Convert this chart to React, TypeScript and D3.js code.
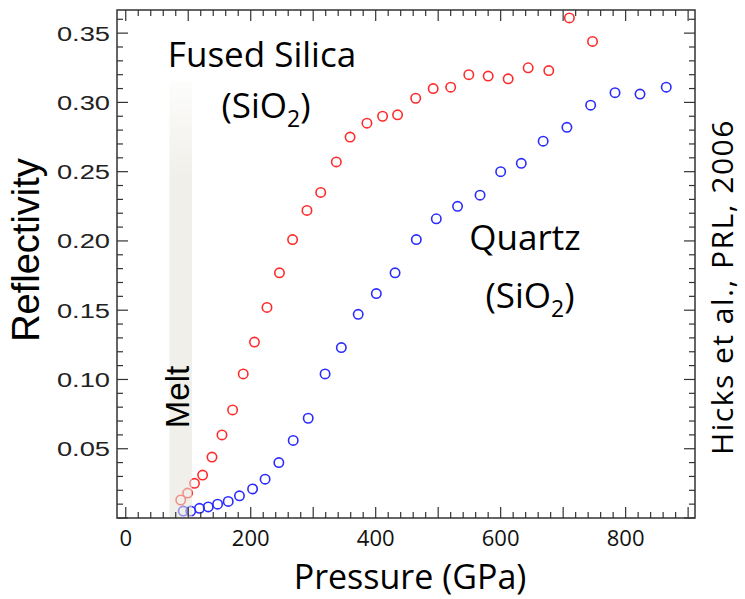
import React from 'react';
import * as d3 from 'd3';

const fusedP = [88, 99, 110, 123, 138, 154, 171, 188, 206, 226, 246, 267, 290, 312, 337, 359, 386, 411, 435, 464, 492, 520, 549, 580, 612, 644, 677, 710, 747];
const fusedR = [0.013, 0.018, 0.025, 0.031, 0.044, 0.060, 0.078, 0.104, 0.127, 0.152, 0.177, 0.201, 0.222, 0.235, 0.257, 0.275, 0.285, 0.290, 0.291, 0.303, 0.310, 0.311, 0.320, 0.319, 0.317, 0.325, 0.323, 0.361, 0.344];
const quartzP = [92, 104, 118, 132, 147, 164, 182, 203, 223, 245, 268, 292, 319, 345, 372, 401, 431, 465, 497, 531, 567, 600, 633, 668, 706, 744, 783, 823, 865];
const quartzR = [0.005, 0.005, 0.007, 0.008, 0.010, 0.012, 0.016, 0.021, 0.028, 0.040, 0.056, 0.072, 0.104, 0.123, 0.147, 0.162, 0.177, 0.201, 0.216, 0.225, 0.233, 0.250, 0.256, 0.272, 0.282, 0.298, 0.307, 0.306, 0.311];
const xTickLabels = [0, 200, 400, 600, 800];
const yTickLabels = [0.05, 0.10, 0.15, 0.20, 0.25, 0.30, 0.35];
const meltRange = [70, 106];
const meltTop = 0.315;

export default function App() {
  const W = 745, H = 599;
  const left = 117, right = 695, top = 10, bottom = 518;
  const x = d3.scaleLinear().domain([-14, 911]).range([left, right]);
  const y = d3.scaleLinear().domain([0, 0.3667]).range([bottom, top]);

  const xMinor = d3.range(0, 901, 20);
  const yMinor = d3.range(0, 37).map((i) => i / 100);
  const axisColor = '#333';
  const red = '#ff2b2b';
  const blue = '#2b2bff';
  const annFont = '"Open Sans", Lato, sans-serif';
  const arial = '"Liberation Sans", Arial, sans-serif';

  return (
    <div style={{ position: 'absolute', left: 0, top: 0 }}>
      <svg width={W} height={H} style={{ display: 'block', background: '#fff' }}>
        <defs>
          <linearGradient id="meltGrad" x1="0" y1="1" x2="0" y2="0">
            <stop offset="0" stopColor="#e4e2d8" stopOpacity={0.55} />
            <stop offset="0.78" stopColor="#e4e2d8" stopOpacity={0.55} />
            <stop offset="1" stopColor="#e4e2d8" stopOpacity={0.08} />
          </linearGradient>
        </defs>

        {fusedP.map((p, i) => (
          <circle key={'f' + i} cx={x(p)} cy={y(fusedR[i])} r={4.7} fill="none" stroke={red} strokeWidth={1.6} />
        ))}
        {quartzP.map((p, i) => (
          <circle key={'q' + i} cx={x(p)} cy={y(quartzR[i])} r={4.7} fill="none" stroke={blue} strokeWidth={1.6} />
        ))}

        <rect x={x(meltRange[0])} y={y(meltTop)} width={x(meltRange[1]) - x(meltRange[0])} height={y(0) - y(meltTop)} fill="url(#meltGrad)" />

        <rect x={left} y={top} width={right - left} height={bottom - top} fill="none" stroke={axisColor} strokeWidth={1.5} />

        {xMinor.map((v) => {
          const major = v % 100 === 0;
          const len = major ? 11 : 6;
          return (
            <g key={'xt' + v}>
              <line x1={x(v)} x2={x(v)} y1={bottom} y2={bottom - len} stroke={axisColor} strokeWidth={1.2} />
              <line x1={x(v)} x2={x(v)} y1={top} y2={top + len} stroke={axisColor} strokeWidth={1.2} />
            </g>
          );
        })}
        {yMinor.map((v, i) => {
          const major = i % 5 === 0;
          const len = major ? 11 : 6;
          return (
            <g key={'yt' + i}>
              <line x1={left} x2={left + len} y1={y(v)} y2={y(v)} stroke={axisColor} strokeWidth={1.2} />
              <line x1={right} x2={right - len} y1={y(v)} y2={y(v)} stroke={axisColor} strokeWidth={1.2} />
            </g>
          );
        })}

        {xTickLabels.map((v) => (
          <text key={'xl' + v} x={x(v)} y={546} textAnchor="middle" fontFamily={annFont} fontSize={22} fill="#111">
            {v}
          </text>
        ))}
        {yTickLabels.map((v) => (
          <text key={'yl' + v} transform={`translate(110,${y(v) + 7.5}) scale(1.3,1)`} textAnchor="end" fontFamily={arial} fontSize={21} fill="#222">
            {v.toFixed(2)}
          </text>
        ))}

        <text x={410} y={589} textAnchor="middle" fontFamily={annFont} fontSize={34} fill="#000">
          Pressure (GPa)
        </text>
        <text transform="translate(39,250) rotate(-90)" textAnchor="middle" fontFamily={arial} fontSize={38} fill="#000">
          Reflectivity
        </text>
        <text transform="translate(733,287) rotate(-90)" textAnchor="middle" fontFamily={annFont} fontSize={30} letterSpacing={1.5} fill="#000">
          Hicks et al., PRL, 2006
        </text>
        <text transform="translate(189,397) rotate(-90)" textAnchor="middle" fontFamily={arial} fontSize={33} fill="#000">
          Melt
        </text>

        <text x={262} y={67} textAnchor="middle" fontFamily={annFont} fontSize={35} fill="#000">
          Fused Silica
        </text>
        <text x={266} y={118} textAnchor="middle" fontFamily={annFont} fontSize={35} fill="#000">
          (SiO<tspan fontSize={23} dy={9}>2</tspan><tspan dy={-9}>)</tspan>
        </text>
        <text x={525} y={250} textAnchor="middle" fontFamily={annFont} fontSize={35} fill="#000">
          Quartz
        </text>
        <text x={530} y={308} textAnchor="middle" fontFamily={annFont} fontSize={35} fill="#000">
          (SiO<tspan fontSize={23} dy={9}>2</tspan><tspan dy={-9}>)</tspan>
        </text>
      </svg>
    </div>
  );
}
